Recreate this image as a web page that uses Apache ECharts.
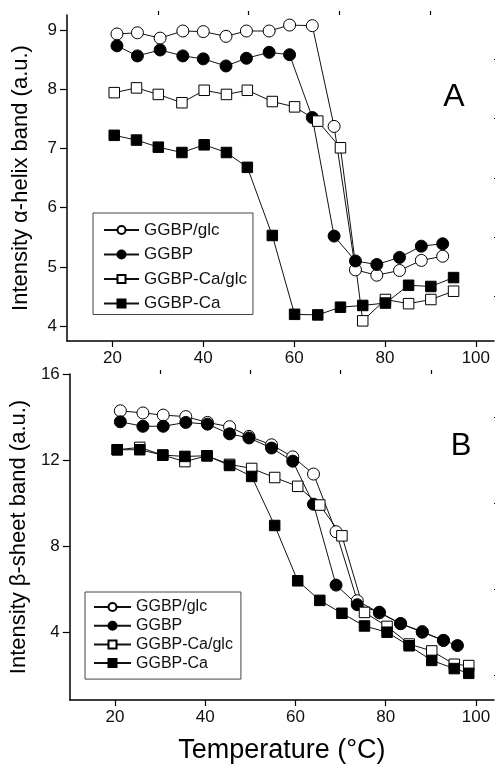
<!DOCTYPE html>
<html>
<head>
<meta charset="utf-8">
<script src="https://cdn.jsdelivr.net/npm/echarts@6/dist/echarts.min.js"></script>
<style>
  body { margin: 0; background: #fff; }
  #chart { width: 495px; height: 765px; }
</style>
</head>
<body>
<div id="chart"></div>
<script>
// panel A: alpha-helix band
var tempCircA = [21, 25.5, 30.5, 35.5, 40, 45, 49.5, 54.5, 59, 64, 68.8, 73.5, 78.2, 83.2, 88, 92.7];
var glcA = [8.93, 8.95, 8.86, 8.98, 8.97, 8.89, 8.98, 8.98, 9.08, 9.07, 7.37, 4.95, 4.86, 4.94, 5.11, 5.18];
var ggbpA = [8.73, 8.56, 8.66, 8.56, 8.51, 8.39, 8.52, 8.62, 8.58, 7.52, 5.52, 5.10, 5.04, 5.16, 5.35, 5.39];
var tempSqA = [20.4, 25.3, 30.1, 35.3, 40.2, 45.1, 49.7, 55.2, 60.1, 65.2, 70.2, 75.1, 80.1, 85.2, 90.1, 95.1];
var caGlcA = [7.94, 8.02, 7.91, 7.77, 7.98, 7.91, 7.98, 7.79, 7.70, 7.46, 7.01, 4.09, 4.45, 4.38, 4.45, 4.59];
var caA = [7.22, 7.14, 7.02, 6.93, 7.06, 6.93, 6.68, 5.53, 4.20, 4.19, 4.32, 4.35, 4.39, 4.69, 4.67, 4.82];

// panel B: beta-sheet band
var tempCircB = [21.2, 26.2, 30.7, 35.7, 40.5, 45.4, 49.7, 54.7, 59.4, 64, 69, 73.7, 78.6, 83.3, 88.1, 92.8, 95.9];
var glcB = [14.29, 14.19, 14.09, 14.02, 13.75, 13.55, 13.1, 12.71, 12.15, 11.35, 8.67, 5.46, 4.9, 4.4, 4.03, 3.62];
var ggbpB = [13.78, 13.57, 13.57, 13.75, 13.67, 13.22, 13.03, 12.56, 11.95, 9.95, 6.19, 5.28, 4.93, 4.40, 4.00, 3.62, 3.38];
var tempSqB = [20.5, 25.5, 30.6, 35.5, 40.4, 45.4, 50.3, 55.4, 60.5, 65.4, 70.3, 75.3, 80.3, 85.2, 90.2, 95.2, 98.4];
var caGlcB = [12.48, 12.59, 12.23, 11.93, 12.20, 11.8, 11.61, 11.19, 10.78, 9.91, 8.48, 4.92, 4.27, 3.45, 3.13, 2.51, 2.45];
var caB = [12.48, 12.48, 12.23, 12.17, 12.20, 11.75, 11.24, 8.96, 6.39, 5.48, 4.88, 4.29, 4.0, 3.37, 2.69, 2.31, 2.09];

var names = ['GGBP/glc', 'GGBP', 'GGBP-Ca/glc', 'GGBP-Ca'];
var xLabels = [20, 40, 60, 80, 100];
var xMinor = [30, 50, 70, 90];
var yLabelsA = [4, 5, 6, 7, 8, 9];
var yMinorA = [4.5, 5.5, 6.5, 7.5, 8.5];
var yLabelsB = [4, 8, 12, 16];
var yMinorB = [2, 6, 10, 14];

var FONT = 'Liberation Sans, Arial, sans-serif';

function pairs(xs, ys) {
    return ys.map(function (v, i) { return [xs[i], v]; });
}

function mkSeries(name, xs, ys, symbol, filled, gi) {
    return {
        name: name,
        type: 'line',
        xAxisIndex: gi * 2,
        yAxisIndex: gi * 2,
        data: pairs(xs, ys),
        symbol: symbol,
        symbolSize: symbol === 'circle' ? 12 : 10.5,
        showAllSymbol: true,
        lineStyle: {color: '#111', width: 1},
        itemStyle: {color: filled ? '#000' : '#fff', borderColor: '#000', borderWidth: 1},
        emphasis: {disabled: true},
        animation: false
    };
}

function mainX(gi, withName) {
    var ax = {
        type: 'value', gridIndex: gi, min: 10, max: 104,
        axisLine: {show: true, lineStyle: {color: '#000', width: 1.5}},
        axisTick: {show: true, length: 6, customValues: xLabels, lineStyle: {color: '#000', width: 1.2}},
        axisLabel: {customValues: xLabels, margin: 9, fontSize: 17, color: '#111', fontFamily: FONT},
        splitLine: {show: false}
    };
    if (withName) {
        ax.name = 'Temperature (°C)';
        ax.nameLocation = 'middle';
        ax.nameGap = 37;
        ax.nameTextStyle = {fontSize: 27, color: '#000', fontFamily: FONT};
    }
    return ax;
}

function minorX(gi) {
    return {
        type: 'value', gridIndex: gi, min: 10, max: 104,
        axisLine: {show: false},
        axisTick: {show: true, length: 4, customValues: xMinor, lineStyle: {color: '#000', width: 1.2}},
        axisLabel: {show: false},
        splitLine: {show: false}
    };
}

function mainY(gi, min, max, labels, title) {
    return {
        type: 'value', gridIndex: gi, min: min, max: max,
        name: title, nameLocation: 'middle', nameGap: 35,
        nameTextStyle: {fontSize: 22, color: '#000', fontFamily: FONT},
        axisLine: {show: true, lineStyle: {color: '#000', width: 1.5}},
        axisTick: {show: true, length: 7, customValues: labels, lineStyle: {color: '#000', width: 1.2}},
        axisLabel: {customValues: labels, margin: 10, fontSize: 17, color: '#111', fontFamily: FONT},
        splitLine: {show: false}
    };
}

function minorY(gi, min, max, ticks) {
    return {
        type: 'value', gridIndex: gi, min: min, max: max,
        axisLine: {show: false},
        axisTick: {show: true, length: 4, customValues: ticks, lineStyle: {color: '#000', width: 1.2}},
        axisLabel: {show: false},
        splitLine: {show: false}
    };
}

function legendBox(top, left, padding, fontSize, lineHeight, gap, width) {
    return {
        data: names,
        orient: 'vertical',
        left: left,
        top: top,
        padding: padding,
        itemWidth: width,
        itemHeight: 10,
        itemGap: gap,
        borderColor: '#444',
        borderWidth: 1,
        selectedMode: false,
        textStyle: {fontSize: fontSize, lineHeight: lineHeight, color: '#111', fontFamily: FONT}
    };
}

var chart = echarts.init(document.getElementById('chart'), null, {renderer: 'canvas'});
chart.setOption({
    animation: false,
    backgroundColor: '#fff',
    grid: [
        {left: 67, right: 1, top: 15, bottom: 424},
        {left: 67, right: 1, top: 374, bottom: 64}
    ],
    xAxis: [mainX(0, false), minorX(0), mainX(1, true), minorX(1)],
    yAxis: [
        mainY(0, 3.75, 9.25, yLabelsA, 'Intensity α-helix band (a.u.)'),
        minorY(0, 3.75, 9.25, yMinorA),
        mainY(1, 0.85, 16, yLabelsB, 'Intensity β-sheet band (a.u.)'),
        minorY(1, 0.85, 16, yMinorB)
    ],
    legend: [
        legendBox(213, 93, [8, 6, 2, 10], 17, 18, 6.5, 35),
        legendBox(592, 85, [7, 8, 8, 8], 16, 16, 2.7, 37)
    ],
    graphic: [
        {type: 'text', x: 454, y: 97, style: {text: 'A', font: '32px ' + FONT, fill: '#000', align: 'center', verticalAlign: 'middle'}},
        {type: 'text', x: 461, y: 446, style: {text: 'B', font: '31px ' + FONT, fill: '#000', align: 'center', verticalAlign: 'middle'}}
    ],
    series: [
        mkSeries(names[0], tempCircA, glcA, 'circle', false, 0),
        mkSeries(names[1], tempCircA, ggbpA, 'circle', true, 0),
        mkSeries(names[2], tempSqA, caGlcA, 'rect', false, 0),
        mkSeries(names[3], tempSqA, caA, 'rect', true, 0),
        mkSeries(names[0], tempCircB, glcB, 'circle', false, 1),
        mkSeries(names[1], tempCircB, ggbpB, 'circle', true, 1),
        mkSeries(names[2], tempSqB, caGlcB, 'rect', false, 1),
        mkSeries(names[3], tempSqB, caB, 'rect', true, 1)
    ]
});
</script>
</body>
</html>
